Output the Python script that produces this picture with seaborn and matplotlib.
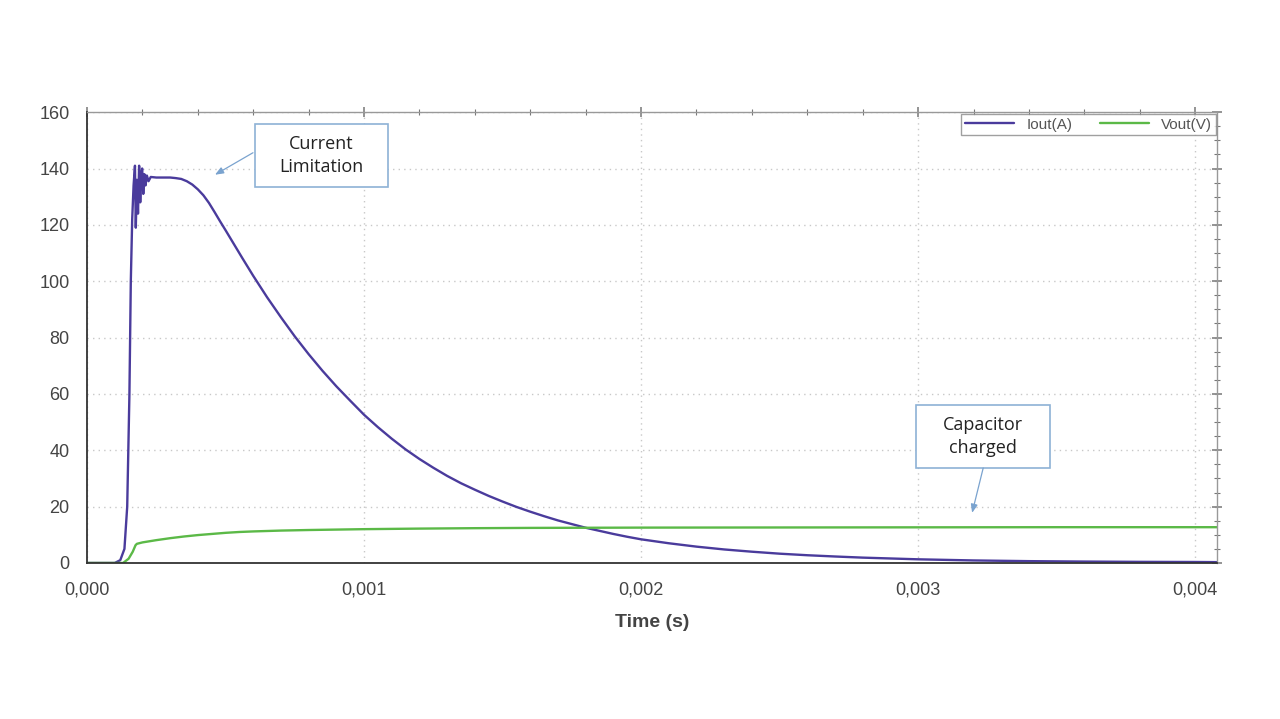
import numpy as np
import pandas as pd
import matplotlib
matplotlib.use("Agg")
import matplotlib.pyplot as plt
from matplotlib.patches import Rectangle
from matplotlib.ticker import MultipleLocator, FuncFormatter
import seaborn as sns

# Iout(A) (start-up, current limit ringing, decay)
t_iout = [0.0, 0.00010, 0.00012, 0.000135, 0.000145, 0.000153, 0.000158, 0.000163,
          0.000168, 0.000173, 0.000176, 0.000180, 0.000184, 0.000188, 0.000192,
          0.000196, 0.000199, 0.000203, 0.000207, 0.000211, 0.000216, 0.000222,
          0.00023, 0.00025, 0.00030, 0.00032, 0.00034, 0.00036, 0.00038,
          0.00040, 0.00042, 0.00044, 0.00046, 0.00048, 0.00050, 0.00053, 0.00056,
          0.00060, 0.00065, 0.00070, 0.00075, 0.00080, 0.00085, 0.00090, 0.00095,
          0.00100, 0.00105, 0.00110, 0.00115, 0.00120, 0.00125, 0.00130, 0.00135,
          0.00140, 0.00145, 0.00150, 0.00155, 0.00160, 0.00165, 0.00170, 0.00175,
          0.00180, 0.00185, 0.00190, 0.00195, 0.00200, 0.00210, 0.00220, 0.00230,
          0.00240, 0.00250, 0.00260, 0.00270, 0.00280, 0.00290, 0.00300, 0.00320,
          0.00340, 0.00360, 0.00380, 0.00400, 0.00408]
iout = [0.0, 0.0, 1.0, 5.0, 20.0, 60.0, 100.0, 122.0,
        134.0, 141.0, 119.0, 136.0, 124.0, 141.0, 128.0,
        138.0, 140.0, 131.0, 138.0, 134.0, 137.5, 135.5,
        137.0, 136.8, 136.8, 136.6, 136.3, 135.5, 134.3,
        132.6, 130.5, 127.8, 124.6, 121.3, 118.1, 113.2, 108.3,
        101.9, 94.3, 87.2, 80.4, 74.1, 68.2, 62.7, 57.6,
        52.6, 48.2, 44.1, 40.3, 36.9, 33.8, 30.9, 28.3,
        26.0, 23.8, 21.8, 19.9, 18.2, 16.6, 15.1, 13.8,
        12.5, 11.4, 10.3, 9.3, 8.4, 7.0, 5.8, 4.8,
        4.0, 3.3, 2.75, 2.3, 1.9, 1.6, 1.3, 0.9,
        0.65, 0.5, 0.4, 0.35, 0.3]

# Vout(V)
t_vout = [0.0, 0.00013, 0.00015, 0.000165, 0.000175, 0.00018, 0.00020, 0.00025,
          0.00030, 0.00035, 0.00040, 0.00045, 0.00050, 0.00055, 0.00060, 0.00070,
          0.00080, 0.00090, 0.00100, 0.00120, 0.00140, 0.00160, 0.00180, 0.00200,
          0.00250, 0.00300, 0.00350, 0.00400, 0.00408]
vout = [0.0, 0.0, 1.5, 4.0, 6.3, 6.8, 7.3, 8.1,
        8.8, 9.4, 9.9, 10.3, 10.7, 11.0, 11.2, 11.5,
        11.7, 11.85, 12.0, 12.2, 12.35, 12.45, 12.5, 12.55,
        12.6, 12.65, 12.7, 12.7, 12.7]

df = pd.concat([
    pd.DataFrame({"t": t_iout, "value": iout, "signal": "Iout(A)"}),
    pd.DataFrame({"t": t_vout, "value": vout, "signal": "Vout(V)"}),
])

sns.set_style("white")
plt.rcParams["font.family"] = ["Liberation Sans", "DejaVu Sans"]

fig = plt.figure(figsize=(12.8, 7.19), dpi=100)
ax = fig.add_axes([0.068, 0.217, 0.883, 0.627])

sns.lineplot(data=df, x="t", y="value", hue="signal", estimator=None, sort=False,
             palette={"Iout(A)": "#4a3b9c", "Vout(V)": "#5bb947"},
             linewidth=1.7, ax=ax)

ax.set_xlim(0, 0.00408)
ax.set_ylim(0, 160)
ax.xaxis.set_major_locator(MultipleLocator(0.001))
ax.xaxis.set_minor_locator(MultipleLocator(0.0002))
ax.yaxis.set_major_locator(MultipleLocator(20))
ax.yaxis.set_minor_locator(MultipleLocator(5))
ax.xaxis.set_major_formatter(FuncFormatter(lambda v, p: f"{v:.3f}".replace(".", ",")))
ax.grid(True, which="major", color="#c8c8c8", linestyle=(0, (1, 3)), linewidth=1.0)

ax.tick_params(which="both", direction="inout", top=True, right=True,
               colors="#777777", labelcolor="#444444", labelsize=13)
ax.tick_params(which="major", length=7, width=1.1)
ax.tick_params(which="minor", length=4, width=0.8)
ax.tick_params(axis="x", pad=10)
ax.tick_params(axis="y", pad=9)
for side in ["left", "bottom"]:
    ax.spines[side].set_color("#333333")
    ax.spines[side].set_linewidth(1.3)
for side in ["top", "right"]:
    ax.spines[side].set_color("#999999")
    ax.spines[side].set_linewidth(1.0)

ax.set_xlabel("Time (s)", fontsize=14, fontweight="bold", color="#444444", labelpad=11)
ax.set_ylabel("")

leg = ax.legend(loc="upper right", bbox_to_anchor=(1.0, 1.0), borderaxespad=0.1,
                ncol=2, frameon=True, fancybox=False, fontsize=11,
                handlelength=3.2, columnspacing=1.8, borderpad=0.25)
leg.get_frame().set_edgecolor("#888888")
leg.get_frame().set_linewidth(1.0)
for txt in leg.get_texts():
    txt.set_color("#555555")

# callout boxes: (x0, x1, y0, y1) in data units
callouts = [
    ("Current\nLimitation", (0.000606, 0.001087, 133.6, 155.9), (0.000599, 145.6), (0.000462, 137.8)),
    ("Capacitor\ncharged", (0.002993, 0.003477, 33.7, 56.1), (0.003235, 33.7), (0.003195, 17.8)),
]
for label, (x0, x1, y0, y1), start, tip in callouts:
    ax.add_patch(Rectangle((x0, y0), x1 - x0, y1 - y0, facecolor="white",
                           edgecolor="#8eb2d6", linewidth=1.2, zorder=5))
    ax.text((x0 + x1) / 2, (y0 + y1) / 2, label, ha="center", va="center", fontsize=13,
            family=["Open Sans", "DejaVu Sans"], color="#222222", linespacing=1.35, zorder=6)
    ax.annotate("", xy=tip, xytext=start, zorder=6,
                arrowprops=dict(arrowstyle="-|>,head_length=0.5,head_width=0.2",
                                color="#7aa3cf", linewidth=0.9, shrinkA=0, shrinkB=0))

fig.savefig("out.png", dpi=100)
